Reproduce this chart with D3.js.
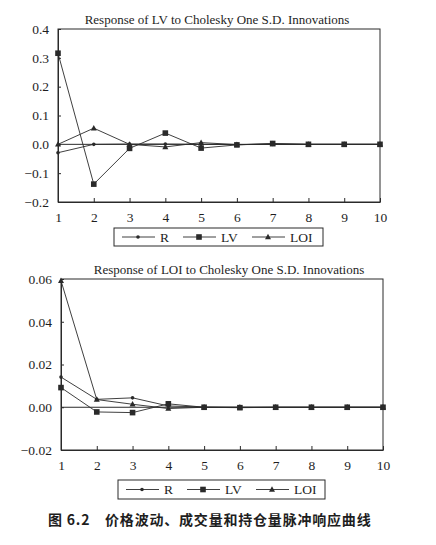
<!DOCTYPE html>
<html>
<head>
<meta charset="utf-8">
<script src="https://cdn.jsdelivr.net/npm/d3@7"></script>
<style>
  body { margin: 0; background: #fff; }
  svg { display: block; }
</style>
</head>
<body>
<div id="chart"></div>
<script>
// periods 1..10
var periods = [1, 2, 3, 4, 5, 6, 7, 8, 9, 10];
var seriesNames = ["R", "LV", "LOI"];

// Response of LV
var lvR   = [-0.029, 0.0, 0.001, 0.001, 0.0, -0.001, 0.0, 0.0, 0.0, 0.0];
var lvLV  = [0.316, -0.138, -0.014, 0.039, -0.013, -0.002, 0.003, 0.0, 0.0, 0.0];
var lvLOI = [0.0, 0.056, 0.0, -0.009, 0.006, -0.001, 0.001, 0.0, 0.0, 0.0];
var lvTicks = [-0.2, -0.1, 0.0, 0.1, 0.2, 0.3, 0.4];

// Response of LOI
var loiR   = [0.0141, 0.0037, 0.0044, 0.0006, 0.0001, 0.0, 0.0, 0.0, 0.0, 0.0];
var loiLV  = [0.0092, -0.0022, -0.0025, 0.0016, 0.0, -0.0002, 0.0, 0.0, 0.0, 0.0];
var loiLOI = [0.0592, 0.0036, 0.0014, -0.0006, 0.0, 0.0, 0.0, 0.0, 0.0, 0.0];
var loiTicks = [-0.02, 0.0, 0.02, 0.04, 0.06];

var caption = "图 6.2　价格波动、成交量和持仓量脉冲响应曲线";

var svg = d3.select("#chart").append("svg")
    .attr("width", 436)
    .attr("height", 545);

var ink = "#2a2a2a";
var serif = "'Liberation Serif'";

function marker(g, type, x, y) {
  if (type == "R") {
    g.append("circle").attr("cx", x).attr("cy", y).attr("r", 1.8).attr("fill", ink);
  } else if (type == "LV") {
    g.append("rect").attr("x", x - 2.8).attr("y", y - 2.8)
      .attr("width", 5.6).attr("height", 5.6).attr("fill", ink);
  } else {
    g.append("path").attr("transform", `translate(${x},${y})`)
      .attr("d", "M0,-3.2L3,2.2L-3,2.2Z").attr("fill", ink);
  }
}

function drawPanel(opt) {
  var g = svg.append("g");
  var x = d3.scaleLinear().domain([1, 10]).range([opt.left, opt.right]);
  var y = d3.scaleLinear().domain(opt.domain).range([opt.bottom, opt.top]);

  // title
  g.append("text")
    .attr("x", (opt.left + opt.right) / 2 + opt.titleShift)
    .attr("y", opt.top - 5)
    .attr("text-anchor", "middle")
    .style("font-family", serif)
    .style("font-size", "13px")
    .attr("fill", "#1e1e1e")
    .text(opt.title);

  // axes
  var yAxis = g.append("g")
    .attr("transform", `translate(${opt.left},0)`)
    .call(d3.axisLeft(y).tickValues(opt.ticks).tickFormat(d3.format(opt.fmt))
      .tickSizeInner(-3).tickSizeOuter(0).tickPadding(9));
  var xAxis = g.append("g")
    .attr("transform", `translate(0,${opt.bottom})`)
    .call(d3.axisBottom(x).tickValues(periods).tickFormat(d3.format("d"))
      .tickSizeInner(-4).tickSizeOuter(0).tickPadding(10));
  [yAxis, xAxis].forEach(function(a) {
    a.selectAll("text").style("font-family", serif).style("font-size", "13.5px").attr("fill", "#1e1e1e");
    a.selectAll("line").attr("stroke", ink);
    a.select(".domain").attr("stroke", ink);
  });

  // frame
  g.append("rect")
    .attr("x", opt.left).attr("y", opt.top)
    .attr("width", opt.right - opt.left).attr("height", opt.bottom - opt.top)
    .attr("fill", "none").attr("stroke", ink).attr("stroke-width", 1);

  // zero line
  g.append("line")
    .attr("x1", opt.left).attr("x2", opt.right)
    .attr("y1", y(0)).attr("y2", y(0))
    .attr("stroke", ink).attr("stroke-width", 1);

  var line = d3.line()
    .x((d, i) => x(periods[i]))
    .y(d => y(d));

  opt.series.forEach(function(s, k) {
    g.append("path")
      .datum(s)
      .attr("d", line)
      .attr("fill", "none")
      .attr("stroke", ink)
      .attr("stroke-width", 0.9);
    s.forEach(function(v, i) {
      marker(g, seriesNames[k], x(periods[i]), y(v));
    });
  });

  // legend
  var lg = g.append("g");
  lg.append("rect")
    .attr("x", opt.legend[0]).attr("y", opt.legend[1])
    .attr("width", opt.legend[2]).attr("height", opt.legend[3])
    .attr("fill", "#fff").attr("stroke", ink).attr("stroke-width", 1);
  var ly = opt.legend[1] + opt.legend[3] / 2;
  var slots = [opt.legend[0] + 8, opt.legend[0] + 69, opt.legend[0] + 138];
  seriesNames.forEach(function(name, k) {
    var x0 = slots[k];
    lg.append("line")
      .attr("x1", x0).attr("x2", x0 + 33)
      .attr("y1", ly).attr("y2", ly)
      .attr("stroke", ink).attr("stroke-width", 0.9);
    marker(lg, name, x0 + 16, ly);
    lg.append("text")
      .attr("x", x0 + 38).attr("y", ly)
      .attr("dy", "0.35em")
      .style("font-family", serif)
      .style("font-size", "13.5px")
      .attr("fill", "#1e1e1e")
      .text(name);
  });
}

drawPanel({
  title: "Response of LV to Cholesky One S.D. Innovations",
  titleShift: -2,
  left: 58, right: 380, top: 29, bottom: 202,
  domain: [-0.2, 0.4], ticks: lvTicks, fmt: ".1f",
  series: [lvR, lvLV, lvLOI],
  legend: [114, 228, 209, 18]
});

drawPanel({
  title: "Response of LOI to Cholesky One S.D. Innovations",
  titleShift: 7,
  left: 61, right: 383, top: 279, bottom: 450,
  domain: [-0.02, 0.06], ticks: loiTicks, fmt: ".2f",
  series: [loiR, loiLV, loiLOI],
  legend: [118, 480, 207, 19]
});

svg.append("text")
  .attr("x", 48)
  .attr("y", 525)
  .style("font-family", "'Noto Sans CJK SC'")
  .style("font-weight", "bold")
  .style("font-size", "14px")
  .attr("letter-spacing", "0.8px")
  .attr("fill", "#1e1e1e")
  .text(caption);
</script>
</body>
</html>
